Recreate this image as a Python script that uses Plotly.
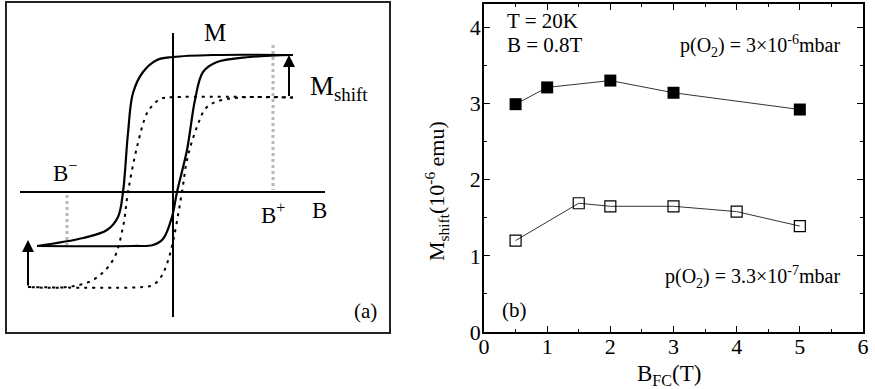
import plotly.graph_objects as go

# ---------------- Panel (b) data ----------------
bfc_high = [0.5, 1, 2, 3, 5]
mshift_high = [2.99, 3.21, 3.30, 3.14, 2.92]
bfc_low = [0.5, 1.5, 2, 3, 4, 5]
mshift_low = [1.20, 1.69, 1.65, 1.65, 1.58, 1.39]
x_ticks = [0, 1, 2, 3, 4, 5, 6]
y_ticks = [0, 1, 2, 3, 4]

# ---------------- Panel (a) schematic points ----------------
solid_desc_B = [120, 40, 0, -16, -30, -40, -45, -50, -55, -66, -90, -136]
solid_desc_M = [137, 137, 135, 132, 120, 99, 59, 0, -25, -38, -46, -54]
solid_asc_B = [-136, -40, -20, -10, -1, 4, 14, 22, 30, 44, 77, 120]
solid_asc_M = [-54, -54, -53, -47, -25, 0, 42, 92, 120, 130, 135, 137]
dash_desc_B = [120, -5, -13, -20, -26, -36, -45, -50, -60, -80, -106, -145]
dash_desc_M = [94.5, 94.5, 93, 87, 79, 45, 0, -35, -68, -88, -95, -95]
dash_asc_B = [-145, -30, -20, -12, -3, 9, 14, 24, 34, 54, 120]
dash_asc_M = [-95, -95, -93, -85, -62, 0, 32, 65, 85, 93, 94.5]
guide_plus_B = [100, 100]
guide_plus_M = [147, 2]
guide_minus_B = [-106, -106]
guide_minus_M = [-3, -56]
axisB_line_B = [-153, 152]
axisB_line_M = [0, 0]
axisM_line_B = [0, 0]
axisM_line_M = [-125, 159]

FONT = "Liberation Serif"
W, H = 875, 389

def px(x):
    return x / W

def py(y):
    return 1 - y / H

fig = go.Figure()

def a_line(xs, ys, width=2, dash=None, color="black", shape="spline"):
    fig.add_trace(go.Scatter(x=xs, y=ys, mode="lines", xaxis="x", yaxis="y",
                             line=dict(color=color, width=width, dash=dash, shape=shape, smoothing=1.0),
                             showlegend=False, hoverinfo="skip"))

a_line(axisB_line_B, axisB_line_M, width=2, shape="linear")
a_line(axisM_line_B, axisM_line_M, width=2, shape="linear")
a_line(guide_plus_B, guide_plus_M, width=3, dash="dot", color="#b8b8b8", shape="linear")
a_line(guide_minus_B, guide_minus_M, width=3, dash="dot", color="#b8b8b8", shape="linear")
a_line(dash_desc_B, dash_desc_M, width=2, dash="3px,5px")
a_line(dash_asc_B, dash_asc_M, width=2, dash="3px,5px")
a_line(solid_desc_B, solid_desc_M, width=2.2)
a_line(solid_asc_B, solid_asc_M, width=2.2)

# ---------------- Panel (b) traces ----------------
fig.add_trace(go.Scatter(x=bfc_high, y=mshift_high, mode="lines+markers", xaxis="x2", yaxis="y2",
                         line=dict(color="#333333", width=1),
                         marker=dict(symbol="square", size=12, color="black", line=dict(color="black", width=0)),
                         showlegend=False))
fig.add_trace(go.Scatter(x=bfc_low, y=mshift_low, mode="lines+markers", xaxis="x2", yaxis="y2",
                         line=dict(color="#333333", width=1),
                         marker=dict(symbol="square-open", size=11, color="black", line=dict(color="black", width=1.2)),
                         showlegend=False))

annotations = []
# Panel (a) texts
def a_text(text, x, y, size=24, xanchor="center"):
    annotations.append(dict(text=text, x=x, y=y, xref="x", yref="y", showarrow=False,
                            xanchor=xanchor, yanchor="middle", font=dict(family=FONT, size=size, color="black")))

a_text("M", 42, 159, size=25)
a_text("M<sub>shift</sub>", 135, 104, size=27, xanchor="left")
a_text("B<sup>−</sup>", -122, 21, size=23, xanchor="left")
a_text("B<sup>+</sup>", 86, -21, size=23, xanchor="left")
a_text("B", 146, -18, size=23)
a_text("(a)", 192, -119, size=21)

# arrows in panel (a)
annotations.append(dict(x=116, y=137, ax=116, ay=94.5, xref="x", yref="y", axref="x", ayref="y",
                        showarrow=True, arrowhead=2, arrowsize=1.2, arrowwidth=2, arrowcolor="black", text=""))
annotations.append(dict(x=-145, y=-48, ax=-145, ay=-95, xref="x", yref="y", axref="x", ayref="y",
                        showarrow=True, arrowhead=2, arrowsize=1.2, arrowwidth=2, arrowcolor="black", text=""))

# Panel (b) texts
def b_text(text, x, y, size=20, xanchor="left"):
    annotations.append(dict(text=text, x=x, y=y, xref="x2", yref="y2", showarrow=False,
                            xanchor=xanchor, yanchor="middle", font=dict(family=FONT, size=size, color="black")))

b_text("T = 20K", 0.33, 4.08, size=21)
b_text("B = 0.8T", 0.33, 3.77, size=21)
b_text("p(O<sub>2</sub>) = 3×10<sup>-6</sup>mbar", 5.66, 3.76, xanchor="right")
b_text("p(O<sub>2</sub>) = 3.3×10<sup>-7</sup>mbar", 5.66, 0.72, xanchor="right")
b_text("(b)", 0.25, 0.29, size=21)

# axis titles for (b)
annotations.append(dict(text="M<sub>shift</sub>(10<sup>-6</sup> emu)", x=px(436), y=py(191), xref="paper", yref="paper",
                        showarrow=False, textangle=-90, xanchor="center", yanchor="middle",
                        font=dict(family=FONT, size=22, color="black")))
annotations.append(dict(text="B<sub>FC</sub>(T)", x=px(669), y=py(375), xref="paper", yref="paper",
                        showarrow=False, xanchor="center", yanchor="middle",
                        font=dict(family=FONT, size=23, color="black")))

fig.update_layout(
    width=W, height=H,
    margin=dict(l=0, r=0, t=0, b=0, autoexpand=False),
    paper_bgcolor="white", plot_bgcolor="white",
    font=dict(family=FONT, color="black"),
    xaxis=dict(domain=[px(7), px(389)], range=[-166, 216], showgrid=False, zeroline=False, automargin=False,
               showticklabels=False, ticks="", showline=True, mirror=True, linecolor="#222", linewidth=2),
    yaxis=dict(domain=[py(332), py(3)], range=[-140, 189], showgrid=False, zeroline=False, automargin=False,
               showticklabels=False, ticks="", showline=True, mirror=True, linecolor="#222", linewidth=2),
    xaxis2=dict(domain=[px(484), px(863)], range=[0, 6], anchor="y2", showgrid=False, zeroline=False,
                automargin=False, ticklabelstandoff=-6,
                tickvals=x_ticks, ticks="inside", ticklen=6, tickwidth=1, tickcolor="black",
                minor=dict(dtick=0.5, ticks="inside", ticklen=3, tickcolor="black"),
                showline=True, mirror="allticks", linecolor="black", linewidth=1.5,
                tickfont=dict(family=FONT, size=22, color="black")),
    yaxis2=dict(domain=[py(332), py(4)], range=[0, 4.305], anchor="x2", showgrid=False, zeroline=False,
                automargin=False, ticklabelstandoff=-3,
                tickvals=y_ticks, ticks="inside", ticklen=6, tickwidth=1, tickcolor="black",
                minor=dict(dtick=0.5, ticks="inside", ticklen=3, tickcolor="black"),
                showline=True, mirror="allticks", linecolor="black", linewidth=1.5,
                tickfont=dict(family=FONT, size=22, color="black")),
    annotations=annotations,
)

fig.write_html("out.html", config={"displayModeBar": False},
               post_script="document.body.style.margin='0';document.body.style.overflow='hidden';")
